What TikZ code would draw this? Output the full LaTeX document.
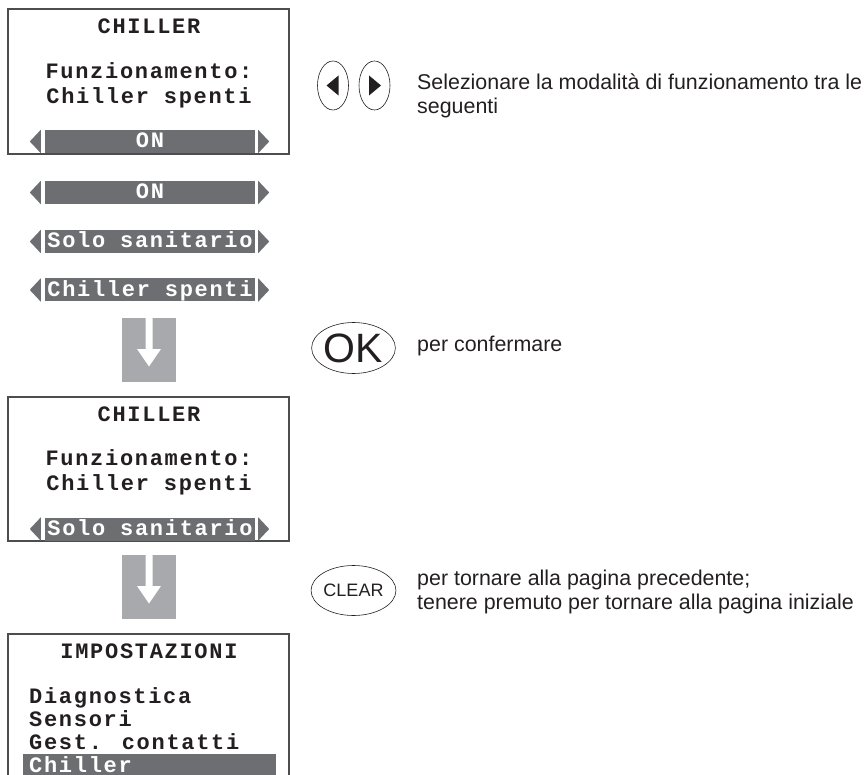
\documentclass[tikz,border=0pt]{standalone}
\usepackage{fontspec}
\setmainfont{Liberation Sans}
\newfontfamily\lcdfam[LetterSpace=7.7]{Liberation Mono}
\usetikzlibrary{shapes.geometric}
\definecolor{frame}{HTML}{4D4D4F}
\definecolor{bargray}{HTML}{6D6E71}
\definecolor{arrgray}{HTML}{A7A9AC}
\definecolor{ink}{HTML}{231F20}
\newcommand\lcdfont{\lcdfam\bfseries\fontsize{22}{26}\selectfont}
\newcommand\notefont{\fontsize{21.4}{26}\selectfont}
\newcommand\barwithtri[4]{%
  \node[lcdbar] (#1) at (#2,#3) {#4};
  \fill[bargray] ([xshift=-4pt]#1.north west) -- ([xshift=-15pt]#1.west) -- ([xshift=-4pt]#1.south west) -- cycle;
  \fill[bargray] ([xshift=3pt]#1.north east) -- ([xshift=14pt]#1.east) -- ([xshift=3pt]#1.south east) -- cycle;}
\newcommand\flowdown[1]{%
  \fill[white] (#1.center) ++(-3.5,-32) -- ++(0,31) -- ++(-8.5,0) -- ++(12,17.5) -- ++(12,-17.5) -- ++(-8.5,0) -- ++(0,-31) -- cycle;}
\begin{document}
\begin{tikzpicture}[x=1pt,y=-1pt,
  lcd/.style={font=\lcdfont, text=ink, inner sep=0pt, anchor=base},
  screen/.style={draw=frame, line width=1.2pt, inner sep=0pt, rectangle},
  lcdbar/.style={fill=bargray, inner sep=0pt, minimum width=210pt, minimum height=23pt, text=white, font=\lcdfont, text height=12.5pt, text depth=0pt},
  flowarrow/.style={fill=arrgray, inner sep=0pt, minimum width=54pt, minimum height=64pt},
  keycap/.style={ellipse, draw=ink, line width=0.6pt, inner sep=0pt},
  note/.style={font=\notefont, text=ink, inner sep=0pt, anchor=base west},
]
\useasboundingbox (0,0) rectangle (864,775);
\clip (0,0) rectangle (864,775);

% screen 1
\node[screen, minimum width=281pt, minimum height=145pt] (scr1) at (148.5,81.5) {};
\node[lcd] (t1) at (149,33.3) {CHILLER};
\node[lcd] (f1) at (149,78.3) {Funzionamento:};
\node[lcd] (c1) at (149,103.3) {Chiller spenti};
\barwithtri{bar1}{150}{141.5}{ON}

% options
\barwithtri{bar2}{150}{192.5}{ON}
\barwithtri{bar3}{150}{241.5}{Solo sanitario}
\barwithtri{bar4}{150}{290}{Chiller spenti}

% arrow 1
\node[flowarrow] (arr1) at (149,350) {};
\flowdown{arr1}

% screen 2
\node[screen, minimum width=281pt, minimum height=144pt] (scr2) at (148.5,469) {};
\node[lcd] (t2) at (149,421) {CHILLER};
\node[lcd] (f2) at (149,465.5) {Funzionamento:};
\node[lcd] (c2) at (149,490.5) {Chiller spenti};
\barwithtri{bar5}{150}{529}{Solo sanitario}

% arrow 2
\node[flowarrow] (arr2) at (149,587) {};
\flowdown{arr2}

% screen 3
\node[screen, minimum width=281pt, minimum height=186pt] (scr3) at (148.5,727) {};
\node[lcd] (t3) at (149,658.3) {IMPOSTAZIONI};
\node[lcd, anchor=base west] (m1) at (29,703.3) {Diagnostica};
\node[lcd, anchor=base west] (m2) at (29,726) {Sensori};
\node[lcd, anchor=base west] (m3) at (29,749) {Gest. contatti};
\node[fill=bargray, inner sep=0pt, minimum width=253pt, minimum height=40pt, anchor=north west] (selrow) at (23,754) {};
\node[lcd, anchor=base west, text=white] (m4) at (29,772) {Chiller};

% keys left/right
\node[keycap, minimum width=31pt, minimum height=49pt] (kl) at (333,85.5) {};
\node[keycap, minimum width=31pt, minimum height=49pt] (kr) at (374.5,85.5) {};
\fill[ink] (kl.center) ++(-6.5,0) -- ++(12,-10) -- ++(0,20) -- cycle;
\fill[ink] (kr.center) ++(6.5,0) -- ++(-12,-10) -- ++(0,20) -- cycle;
\node[note] (n1) at (417,89.5) {Selezionare la modalità di funzionamento tra le};
\node[note] (n2) at (417,114) {seguenti};

% OK key
\node[keycap, minimum width=77pt, minimum height=51pt, font=\fontsize{41}{41}\selectfont, text=ink] (ok) at (353.5,348) {OK};
\node[note] (n3) at (417,351) {per confermare};

% CLEAR key
\node[keycap, minimum width=77pt, minimum height=50pt, font=\fontsize{18}{18}\selectfont, text=ink] (clr) at (353.5,590.5) {CLEAR};
\node[note] (n4) at (417,585.5) {per tornare alla pagina precedente;};
\node[note] (n5) at (417,609.5) {tenere premuto per tornare alla pagina iniziale};
\end{tikzpicture}
\end{document}
